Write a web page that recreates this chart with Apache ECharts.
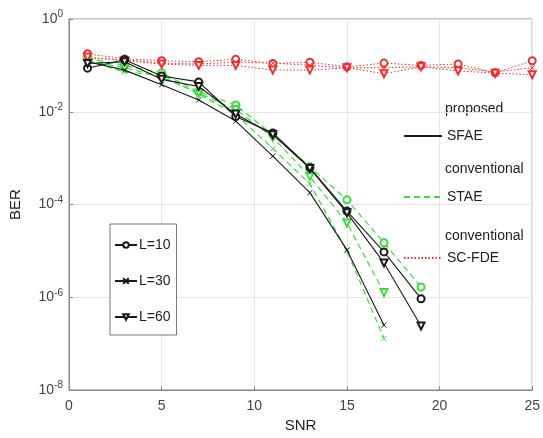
<!DOCTYPE html>
<html>
<head>
<meta charset="utf-8">
<title>BER vs SNR</title>
<style>
    html, body { margin: 0; padding: 0; background: #fff; }
    #chart { width: 543px; height: 438px; }
</style>
</head>
<body>
<div id="chart"></div>
<script src="https://cdn.jsdelivr.net/npm/echarts@6/dist/echarts.min.js"></script>
<script>
    // SNR points
    let snrLong = [1, 3, 5, 7, 9, 11, 13, 15, 17, 19, 21, 23, 25];
    let snrTo19 = [1, 3, 5, 7, 9, 11, 13, 15, 17, 19];
    let snrTo17 = [1, 3, 5, 7, 9, 11, 13, 15, 17];

    // proposed SFAE (black, solid)
    let sfaeL10 = [0.087, 0.132, 0.059, 0.044, 0.0079, 0.0035, 6.2e-4, 7.2e-5, 9.5e-6, 9.3e-7];
    let sfaeL30 = [0.12, 0.079, 0.038, 0.018, 0.0063, 0.0011, 1.8e-4, 1.05e-5, 2.5e-7];
    let sfaeL60 = [0.11, 0.12, 0.05, 0.035, 0.0089, 0.0032, 6.0e-4, 6.6e-5, 5.5e-6, 2.4e-7];

    // conventional STAE (green, dashed)
    let staeL10 = [0.141, 0.1, 0.069, 0.027, 0.014, 0.0032, 6.5e-4, 1.26e-4, 1.5e-5, 1.66e-6];
    let staeL30 = [0.132, 0.071, 0.063, 0.024, 0.0089, 0.0016, 2.8e-4, 1.0e-5, 1.3e-7];
    let staeL60 = [0.126, 0.089, 0.056, 0.025, 0.0112, 0.0028, 4.0e-4, 4.0e-5, 1.26e-6];

    // conventional SC-FDE (red, dotted)
    let fdeL10 = [0.178, 0.138, 0.126, 0.12, 0.135, 0.11, 0.117, 0.093, 0.112, 0.1, 0.107, 0.069, 0.126];
    let fdeL30 = [0.141, 0.132, 0.112, 0.107, 0.117, 0.112, 0.1, 0.089, 0.089, 0.093, 0.089, 0.072, 0.089];
    let fdeL60 = [0.151, 0.126, 0.107, 0.1, 0.1, 0.079, 0.079, 0.089, 0.066, 0.093, 0.076, 0.068, 0.063];

    let xTicks = [0, 5, 10, 15, 20, 25];
    let schemeNames = ['SFAE', 'STAE', 'SC-FDE'];
    let schemeTitles = ['proposed', 'conventional', 'conventional'];
    let lNames = ['L=10', 'L=30', 'L=60'];

    let black = '#1a1a1a';
    let green = '#3ddc3d';
    let red = '#ee3030';
    let font = 'Liberation Sans, Arial, sans-serif';

    let xMark = 'path://M0,0L10,10M10,0L0,10';
    let markers = [
        { symbol: 'emptyCircle', rotate: 0, size: 7 },
        { symbol: xMark, rotate: 0, size: 5 },
        { symbol: 'emptyTriangle', rotate: 180, size: 7 }
    ];

    function pairs(xs, ys) {
        return xs.map(function (x, i) { return [x, ys[i]]; });
    }

    function dataSeries(name, xs, ys, color, dash, width, mk) {
        return {
            name: name,
            type: 'line',
            data: pairs(xs, ys),
            symbol: mk.symbol,
            symbolSize: mk.size,
            symbolRotate: mk.rotate,
            showSymbol: true,
            lineStyle: { color: color, width: width, type: dash },
            itemStyle: { color: color, borderColor: color, borderWidth: 1 },
            animation: false,
            z: color === black ? 4 : 3
        };
    }

    let series = [];
    let groups = [
        { ys: [sfaeL10, sfaeL30, sfaeL60], xs: [snrTo19, snrTo17, snrTo19], color: black, dash: 'solid', width: 1.1 },
        { ys: [staeL10, staeL30, staeL60], xs: [snrTo19, snrTo17, snrTo17], color: green, dash: [6, 4], width: 1.2 },
        { ys: [fdeL10, fdeL30, fdeL60], xs: [snrLong, snrLong, snrLong], color: red, dash: [1.5, 2], width: 1 }
    ];
    groups.forEach(function (g, gi) {
        g.ys.forEach(function (ys, li) {
            series.push(dataSeries(schemeNames[gi] + ' ' + lNames[li], g.xs[li], ys, g.color, g.dash, g.width, markers[li]));
        });
    });

    // legend-only series
    groups.forEach(function (g, gi) {
        series.push({
            name: schemeNames[gi], type: 'line', data: [], symbol: 'none',
            lineStyle: { color: g.color, width: g.width, type: g.dash },
            itemStyle: { color: g.color }
        });
    });
    lNames.forEach(function (n, li) {
        series.push({
            name: n, type: 'line', data: [], symbol: markers[li].symbol,
            symbolRotate: markers[li].rotate, symbolSize: markers[li].size,
            lineStyle: { color: black, width: 1 },
            itemStyle: { color: black, borderColor: black, borderWidth: 1 }
        });
    });

    let myChart = echarts.init(document.getElementById('chart'));
    let option = {
        backgroundColor: '#fff',
        textStyle: { fontFamily: font },
        grid: { left: 69, right: 4, top: 19, bottom: 48, show: true, borderColor: '#888', borderWidth: 1 },
        xAxis: {
            type: 'value', min: xTicks[0], max: xTicks[xTicks.length - 1], interval: 5,
            name: 'SNR', nameLocation: 'middle', nameGap: 28,
            nameTextStyle: { fontSize: 15, color: '#222' },
            axisLine: { lineStyle: { color: '#888' } },
            axisTick: { inside: true, length: 4, lineStyle: { color: '#888' } },
            axisLabel: { fontSize: 14, color: '#444', margin: 9 },
            splitLine: { lineStyle: { color: '#e6e6e6', width: 1 } }
        },
        yAxis: {
            type: 'log', logBase: 10, min: 1e-8, max: 1, interval: 2,
            name: 'BER', nameLocation: 'middle', nameGap: 46, nameRotate: 90,
            nameTextStyle: { fontSize: 15, color: '#222' },
            axisLine: { lineStyle: { color: '#888' } },
            axisTick: { inside: true, length: 4, lineStyle: { color: '#888' } },
            axisLabel: {
                margin: 6, color: '#444',
                formatter: function (v) {
                    let e = Math.round(Math.log10(v));
                    return '{b|10}{s|' + e + '}';
                },
                rich: {
                    b: { fontSize: 14, color: '#444' },
                    s: { fontSize: 10, color: '#444', padding: [0, 0, 9, 0] }
                }
            },
            splitLine: { lineStyle: { color: '#e6e6e6', width: 1 } }
        },
        legend: [
            {
                data: schemeNames, orient: 'vertical', left: 398, top: 124,
                itemWidth: 38, itemHeight: 12, itemGap: 47,
                itemStyle: { opacity: 0 },
                textStyle: { fontSize: 14, color: '#222' },
                selectedMode: false
            },
            {
                data: lNames, orient: 'vertical', left: 110, top: 224,
                itemWidth: 22, itemHeight: 7, itemGap: 22,
                padding: [14, 6, 11, 4],
                backgroundColor: '#fff', borderColor: '#777', borderWidth: 1, borderRadius: 0,
                textStyle: { fontSize: 14, color: '#222', padding: [0, 0, 0, -3] },
                selectedMode: false
            }
        ],
        graphic: [
            { type: 'text', left: 445, top: 102, style: { text: schemeTitles[0], fontSize: 14, fill: '#222', fontFamily: font } },
            { type: 'text', left: 445, top: 162, style: { text: schemeTitles[1], fontSize: 14, fill: '#222', fontFamily: font } },
            { type: 'text', left: 445, top: 229, style: { text: schemeTitles[2], fontSize: 14, fill: '#222', fontFamily: font } }
        ],
        series: series
    };
    myChart.setOption(option);
</script>
</body>
</html>
